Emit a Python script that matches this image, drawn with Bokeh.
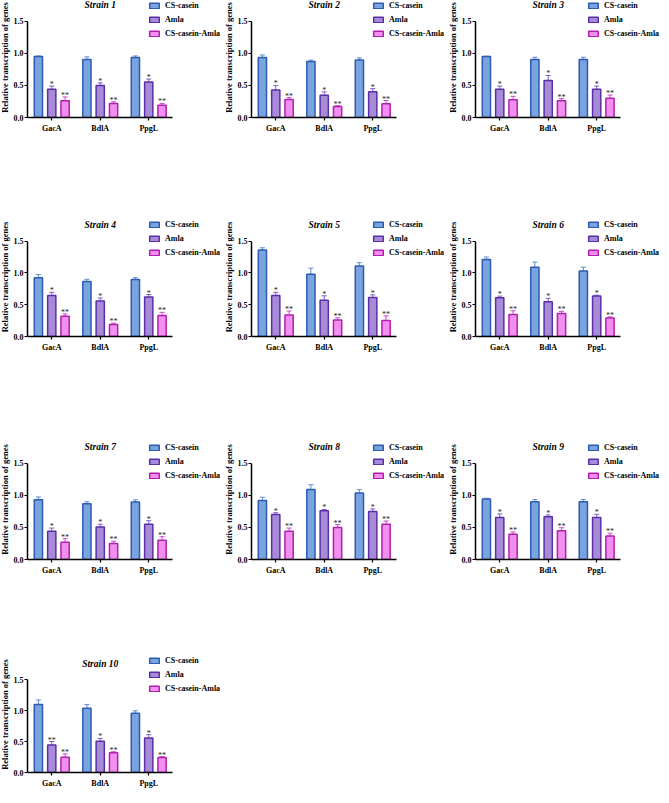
from bokeh.plotting import figure
from bokeh.models import (Range1d, ColumnDataSource, Whisker, TeeHead, Label,
                          Legend, LegendItem, NumeralTickFormatter, FixedTicker)
from bokeh.transform import dodge
from bokeh.layouts import row, column
from bokeh.embed import file_html
from bokeh.resources import INLINE
from bokeh.core.properties import value

# ---------------- data ----------------
genes = ["GacA", "BdlA", "PpgL"]
strains = ["Strain 1", "Strain 2", "Strain 3", "Strain 4", "Strain 5",
           "Strain 6", "Strain 7", "Strain 8", "Strain 9", "Strain 10"]
series_names = ["CS-casein", "Amla", "CS-casein-Amla"]
y_ticks = [0.0, 0.5, 1.0, 1.5]
y_label = "Relative transcription of genes"

cs_casein = [
    [0.95, 0.905, 0.935], [0.935, 0.875, 0.895], [0.95, 0.905, 0.905],
    [0.925, 0.865, 0.895], [1.36, 0.98, 1.11], [1.21, 1.09, 1.03],
    [0.93, 0.87, 0.895], [0.92, 1.09, 1.035], [0.945, 0.90, 0.90],
    [1.095, 1.035, 0.955]]
cs_casein_err = [
    [0.01, 0.04, 0.025], [0.04, 0.02, 0.035], [0.005, 0.035, 0.035],
    [0.05, 0.035, 0.03], [0.035, 0.095, 0.05], [0.04, 0.08, 0.06],
    [0.045, 0.03, 0.035], [0.05, 0.075, 0.055], [0.01, 0.035, 0.035],
    [0.075, 0.06, 0.04]]
amla = [
    [0.44, 0.50, 0.555], [0.43, 0.345, 0.40], [0.44, 0.575, 0.44],
    [0.645, 0.56, 0.62], [0.645, 0.57, 0.615], [0.61, 0.545, 0.635],
    [0.44, 0.505, 0.55], [0.70, 0.76, 0.75], [0.655, 0.665, 0.655],
    [0.445, 0.505, 0.555]]
amla_err = [
    [0.05, 0.04, 0.045], [0.07, 0.055, 0.05], [0.05, 0.08, 0.05],
    [0.05, 0.045, 0.04], [0.05, 0.07, 0.04], [0.025, 0.055, 0.015],
    [0.05, 0.045, 0.055], [0.03, 0.02, 0.04], [0.055, 0.03, 0.05],
    [0.055, 0.045, 0.055]]
cs_casein_amla = [
    [0.26, 0.22, 0.19], [0.28, 0.17, 0.215], [0.275, 0.26, 0.30],
    [0.32, 0.19, 0.33], [0.34, 0.26, 0.25], [0.345, 0.36, 0.29],
    [0.27, 0.25, 0.30], [0.44, 0.50, 0.55], [0.395, 0.45, 0.365],
    [0.245, 0.32, 0.24]]
cs_casein_amla_err = [
    [0.06, 0.025, 0.03], [0.03, 0.015, 0.05], [0.055, 0.035, 0.05],
    [0.035, 0.02, 0.05], [0.06, 0.035, 0.075], [0.06, 0.035, 0.02],
    [0.055, 0.035, 0.055], [0.05, 0.045, 0.05], [0.035, 0.045, 0.045],
    [0.055, 0.015, 0.015]]
amla_sig = [["*", "*", "*"]] * 9 + [["**", "*", "*"]]
cs_casein_amla_sig = [["**", "**", "**"]] * 10

# ---------------- styles / layout ----------------
fills = ["#7aa3df", "#a88bd6", "#f28ef0"]
edges = ["#2b5cb0", "#5a2ea6", "#b21fb0"]
whisk = ["#5f8bd2", "#7d5cc4", "#c94bc9"]
offsets = [-0.275, 0.0, 0.275]
SERIF = "Liberation Serif"

AXIS_W = 150      # pixel length of x axis (3 categories)
AXIS_H = 97       # pixel length of y axis (0 .. 1.5)
TOP_EXTRA = 24    # frame room above 1.5 line for title / legend
BL = 25           # left border

# per panel: figure width, figure height, top border, legend x offset
geom = [
    (224, 219, 1, 121), (224, 219, 0, 121), (221, 219, 0, 112),
    (224, 222, 0, 121), (224, 222, 2, 121), (221, 222, 1, 112),
    (224, 219, 1, 121), (224, 219, 1, 121), (221, 219, 2, 112),
    (224, 134, 0, 121),
]


def make_panel(i):
    w, h, bt, lx = geom[i]
    fw = w - BL
    fh = AXIS_H + TOP_EXTRA
    n = len(genes)
    y_top = y_ticks[-1]
    p = figure(width=w, height=h,
               x_range=Range1d(0, n * fw / AXIS_W),
               y_range=Range1d(0, y_top * fh / AXIS_H),
               output_backend="svg", toolbar_location=None,
               min_border_left=BL, min_border_top=bt,
               min_border_right=0, min_border_bottom=h - bt - fh)
    p.outline_line_color = None
    p.xgrid.grid_line_color = None
    p.ygrid.grid_line_color = None

    gene_x = [k + 0.5 for k in range(n)]
    for ax in (p.xaxis[0], p.yaxis[0]):
        ax.axis_line_width = 1.5
        ax.axis_line_color = "black"
        ax.major_tick_line_color = "black"
        ax.major_tick_line_width = 1.2
        ax.major_tick_out = 3
        ax.major_tick_in = 0
        ax.minor_tick_line_color = None
        ax.major_label_text_font = SERIF
        ax.major_label_text_font_style = "bold"
        ax.major_label_text_font_size = "8px"
        ax.major_label_text_color = "black"
        ax.major_label_standoff = 1
    p.xaxis[0].bounds = (0, n)
    p.xaxis[0].ticker = FixedTicker(ticks=gene_x)
    p.xaxis[0].major_label_overrides = {gx: g for gx, g in zip(gene_x, genes)}
    p.xaxis[0].major_label_standoff = 3
    p.yaxis[0].bounds = (0, y_top)
    p.yaxis[0].ticker = FixedTicker(ticks=y_ticks)
    p.yaxis[0].formatter = NumeralTickFormatter(format="0.0")
    p.yaxis[0].axis_label = y_label
    p.yaxis[0].axis_label_text_font = SERIF
    p.yaxis[0].axis_label_text_font_style = "bold"
    p.yaxis[0].axis_label_text_font_size = "8.5px"
    p.yaxis[0].axis_label_text_color = "black"
    p.yaxis[0].axis_label_standoff = 1

    series = [(cs_casein[i], cs_casein_err[i], None),
              (amla[i], amla_err[i], amla_sig[i]),
              (cs_casein_amla[i], cs_casein_amla_err[i], cs_casein_amla_sig[i])]
    items = []
    for k, (vals, errs, sig) in enumerate(series):
        src = ColumnDataSource(dict(x=gene_x, top=vals,
                                    upper=[v + e for v, e in zip(vals, errs)],
                                    sig=sig if sig else [""] * n))
        xd = dodge("x", offsets[k])
        r = p.vbar(x=xd, top="top", width=0.17, source=src,
                   fill_color=fills[k], line_color=edges[k], line_width=1.5)
        items.append(LegendItem(label=series_names[k], renderers=[r]))
        wk = Whisker(base=xd, lower="top", upper="upper", source=src,
                     line_color=whisk[k], line_width=1,
                     lower_head=None,
                     upper_head=TeeHead(size=5, line_color=whisk[k], line_width=1))
        p.add_layout(wk)
        if sig:
            p.text(x=xd, y="upper", text="sig", source=src,
                   text_font=value(SERIF), text_font_size="8px",
                   text_color="#222222", text_align="center",
                   text_baseline="bottom", y_offset=3)

    title = Label(x=n / 2, y=y_top, y_offset=16, text=strains[i],
                  text_font=SERIF, text_font_style="bold italic",
                  text_font_size="9.5px", text_color="black",
                  text_align="center", text_baseline="middle")
    p.add_layout(title)

    leg = Legend(items=items, location=(lx, fh - 43), padding=0, spacing=3,
                 margin=0, label_height=11, glyph_height=7, glyph_width=12,
                 label_standoff=5, border_line_color=None,
                 background_fill_alpha=0)
    leg.label_text_font = SERIF
    leg.label_text_font_style = "bold"
    leg.label_text_font_size = "8px"
    leg.label_text_color = "black"
    p.add_layout(leg, "center")
    return p


panels = [make_panel(i) for i in range(10)]
layout = column(row(*panels[0:3]), row(*panels[3:6]), row(*panels[6:9]),
                row(panels[9]), margin=(-4, 0, 0, -4))

open("out.html", "w").write(file_html(layout, INLINE))
